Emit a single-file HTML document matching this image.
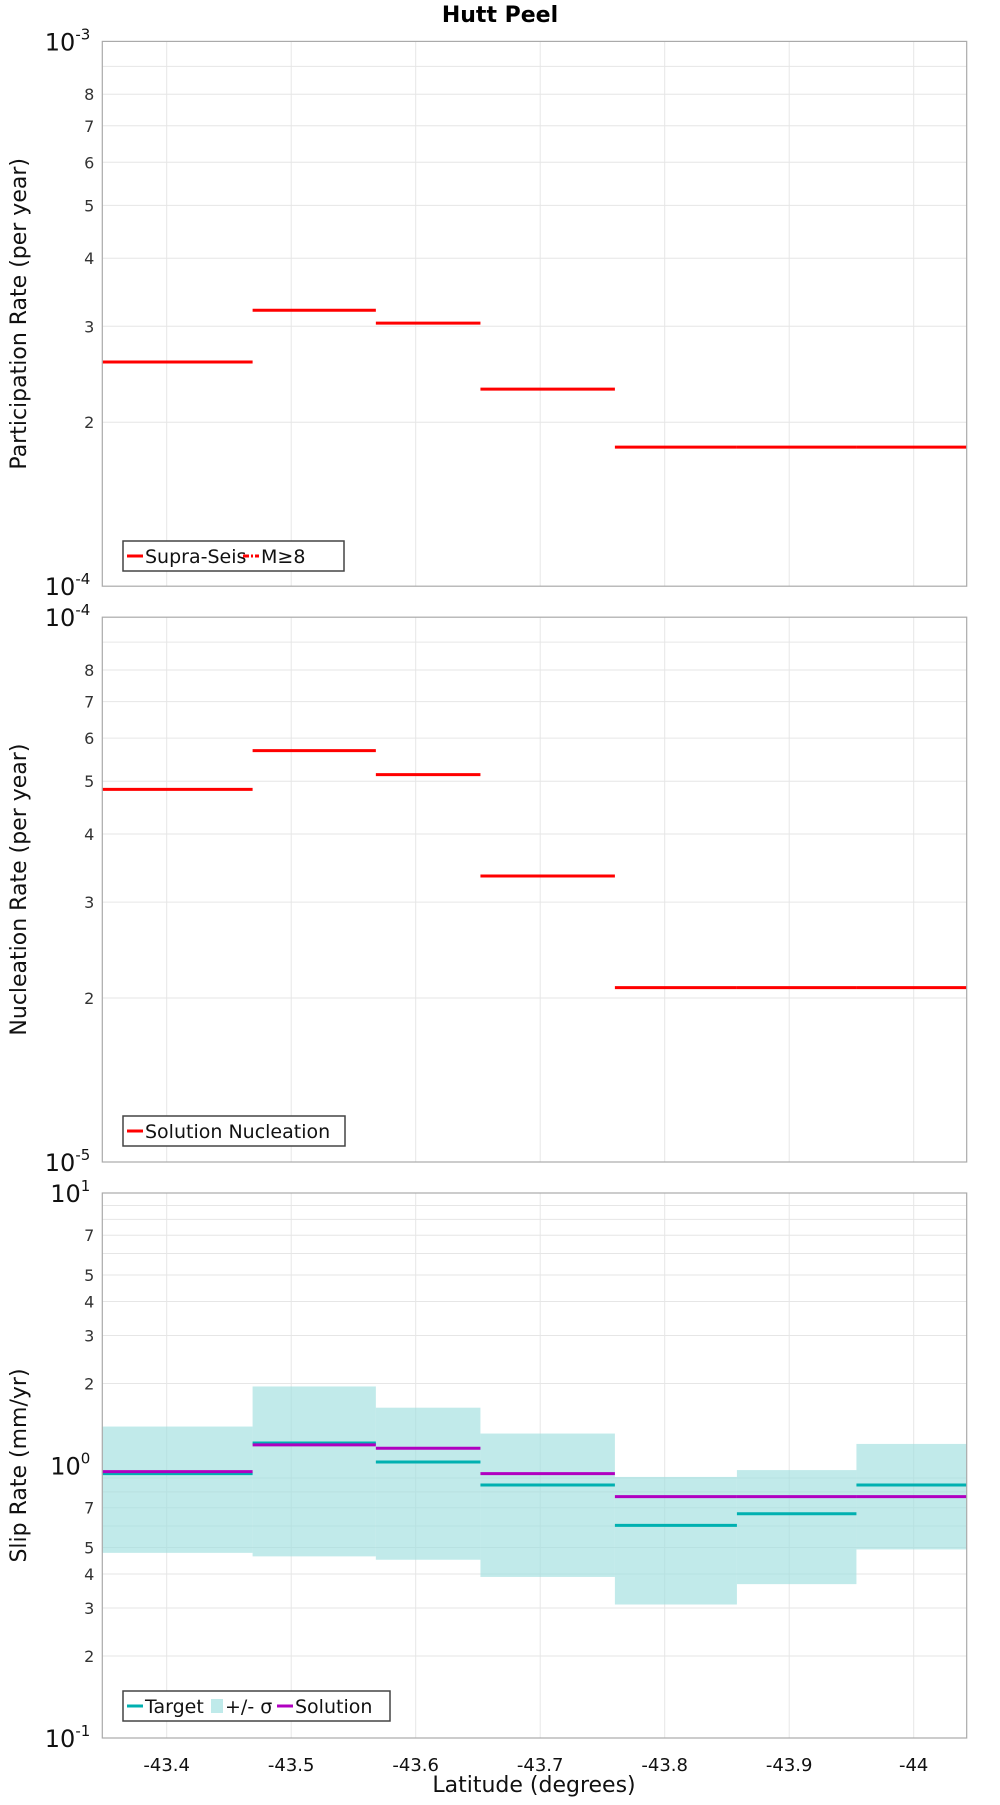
<!DOCTYPE html>
<html><head><meta charset="utf-8"><style>
html,body{margin:0;padding:0;background:#fff;}
svg text{font-family:"DejaVu Sans","Liberation Sans",sans-serif;}
</style></head><body>
<svg id="c" width="1000" height="1800" xmlns="http://www.w3.org/2000/svg">
<text x="500" y="22" text-anchor="middle" font-size="22" font-weight="bold">Hutt Peel</text>
</svg>
<script>
const binEdges=[-43.348,-43.469,-43.568,-43.652,-43.760,-43.858,-43.954,-44.0425];
const partRates=[2.58e-4,3.21e-4,3.04e-4,2.30e-4,1.80e-4,1.80e-4,1.80e-4];
const nuclRates=[4.83e-5,5.69e-5,5.14e-5,3.35e-5,2.09e-5,2.09e-5,2.09e-5];
const slipTarget=[0.934,1.21,1.03,0.848,0.603,0.665,0.848];
const slipSolution=[0.95,1.19,1.157,0.934,0.769,0.769,0.769];
const slipHigh=[1.39,1.95,1.63,1.31,0.908,0.962,1.20];
const slipLow=[0.478,0.464,0.451,0.390,0.309,0.367,0.492];
const xTicks=[-43.4,-43.5,-43.6,-43.7,-43.8,-43.9,-44];
const xTickLabels=["-43.4","-43.5","-43.6","-43.7","-43.8","-43.9","-44"];
const svg=document.getElementById('c');
const NS="http://www.w3.org/2000/svg";
const L=102.3,R=966.7;
function X(v){return 166.7+(-43.4-v)*1245;}
function mk(t,a,txt){const e=document.createElementNS(NS,t);for(const k in a)e.setAttribute(k,a[k]);if(txt!==undefined)e.textContent=txt;svg.appendChild(e);return e;}
function panel(top,bot,d0,labelDigits,title,name){
  const Y=v=>bot-(Math.log10(v)-d0)/2*0; // placeholder
  return null;
}
function makePanel(top,bot,lo,hi,minorLabels,title,name){
  const nd=hi-lo;
  const Y=v=>bot-(Math.log10(v)-lo)/nd*(bot-top);
  // grid
  for(let d=lo;d<hi;d++){for(let m=2;m<=9;m++){const y=Y(m*Math.pow(10,d));
    const g=mk('line',{x1:L,x2:R,y1:y,y2:y,stroke:'#e6e6e6','stroke-width':1});
    
    if(minorLabels.includes(m)){const t=mk('text',{x:L-8,y:y+6,'text-anchor':'end','font-size':16,fill:'#333'},String(m));
      }
  }}
  for(let d=lo;d<=hi;d++){const y=Y(Math.pow(10,d));
    const t=mk('text',{x:L-12,y:y+9,'text-anchor':'end','font-size':24,fill:'#111'});
    
    t.innerHTML='10<tspan dy="-11" font-size="15">'+d+'</tspan>';}
  xTicks.forEach(v=>{const g=mk('line',{x1:X(v),x2:X(v),y1:top,y2:bot,stroke:'#e6e6e6','stroke-width':1});
    });
  const t=mk('text',{transform:`translate(26,${(top+bot)/2}) rotate(-90)`,'text-anchor':'middle','font-size':22,fill:'#111'},title);
  
  return Y;
}
function frame(top,bot,name){const r=mk('rect',{x:L,y:top,width:R-L,height:bot-top,fill:'none',stroke:'#aaa','stroke-width':1.2});
  }
function steps(vals,Y,color,w,name){vals.forEach((v,i)=>{const l=mk('line',{x1:X(binEdges[i]),x2:X(binEdges[i+1]),y1:Y(v),y2:Y(v),stroke:color,'stroke-width':w});
  });}
function legend(x,y,w,items,name){const g=mk('rect',{x:x,y:y,width:w,height:30,fill:'#fff',stroke:'#444','stroke-width':1.5});
  
  let cx=x+4;items.forEach(it=>{
    if(it.band){const s=mk('rect',{x:cx,y:y+8,width:12,height:14,fill:'#bfeaea'});cx+=14;}
    else{const s=mk('line',{x1:cx,x2:cx+16,y1:y+15,y2:y+15,stroke:it.c,'stroke-width':3,'stroke-dasharray':it.dash||''});cx+=18;}
    const t=mk('text',{x:cx,y:y+22,'font-size':19,fill:'#111'},it.t);
    cx+=it.w;});
}
// Panel 1
const T1=41.4,B1=586.2,T2=617.2,B2=1162,T3=1193,B3=1738;
const Y1=makePanel(T1,B1,-4,-3,[2,3,4,5,6,7,8],'Participation Rate (per year)','participation');
steps(partRates,Y1,'#ff0000',3,'participation-bar');
frame(T1,B1,'participation');
legend(123,541,221,[{c:'#ff0000',t:'Supra-Seis',w:98},{c:'#ff0000',dash:'6,2,2,2',t:'M≥8',w:50}],'participation-legend');
// Panel 2
const Y2=makePanel(T2,B2,-5,-4,[2,3,4,5,6,7,8],'Nucleation Rate (per year)','nucleation');
steps(nuclRates,Y2,'#ff0000',3,'nucleation-bar');
frame(T2,B2,'nucleation');
legend(123,1116,222,[{c:'#ff0000',t:'Solution Nucleation',w:200}],'nucleation-legend');
// Panel 3
const Y3=makePanel(T3,B3,-1,1,[2,3,4,5,7],'Slip Rate (mm/yr)','slip');
slipHigh.forEach((h,i)=>{const r=mk('rect',{x:X(binEdges[i]),y:Y3(h),width:X(binEdges[i+1])-X(binEdges[i]),height:Y3(slipLow[i])-Y3(h),fill:'#9fdfdf','fill-opacity':0.65});
  });
steps(slipTarget,Y3,'#00b0b0',3,'slip-target');
steps(slipSolution,Y3,'#b000c0',3,'slip-solution');
frame(T3,B3,'slip');
legend(123,1691,267,[{c:'#00b0b0',t:'Target',w:66},{band:1,t:'+/- σ',w:52},{c:'#b000c0',t:'Solution',w:80}],'slip-legend');
xTicks.forEach((v,i)=>{const t=mk('text',{x:X(v),y:1771,'text-anchor':'middle','font-size':18,fill:'#111'},xTickLabels[i]);
  });
const xt=mk('text',{x:534,y:1792,'text-anchor':'middle','font-size':22,fill:'#111'},'Latitude (degrees)');

</script>
</body></html>
